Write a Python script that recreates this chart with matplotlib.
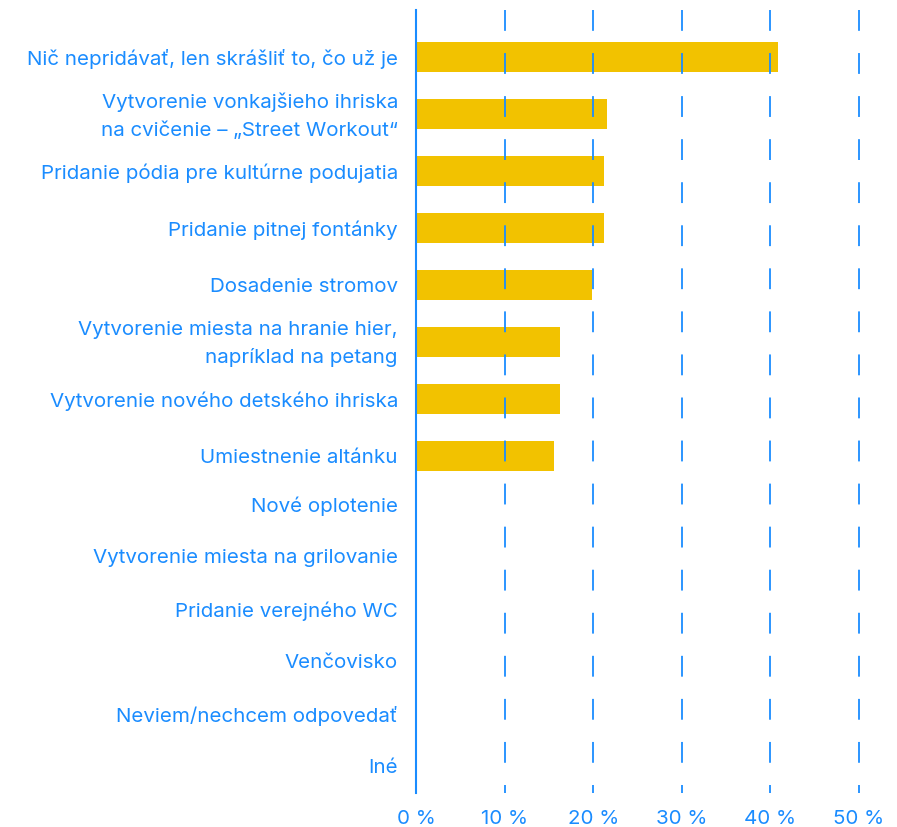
import numpy as np
import matplotlib
matplotlib.use("Agg")
import matplotlib.pyplot as plt
import matplotlib.transforms as mtransforms

plt.rcParams['font.family'] = ['Inter', 'DejaVu Sans']
plt.rcParams['lines.scale_dashes'] = False

labels = ["Nič nepridávať, len skrášliť to, čo už je",
          "Vytvorenie vonkajšieho ihriska\nna cvičenie – „Street Workout“",
          "Pridanie pódia pre kultúrne podujatia",
          "Pridanie pitnej fontánky",
          "Dosadenie stromov",
          "Vytvorenie miesta na hranie hier,\nnapríklad na petang",
          "Vytvorenie nového detského ihriska",
          "Umiestnenie altánku",
          "Nové oplotenie",
          "Vytvorenie miesta na grilovanie",
          "Pridanie verejného WC",
          "Venčovisko",
          "Neviem/nechcem odpovedať",
          "Iné"]
values = [40.9, 21.6, 21.2, 21.2, 19.9, 16.3, 16.3, 15.6, 0, 0, 0, 0, 0, 0]
xticks = [0, 10, 20, 30, 40, 50]

BLUE = '#1a8cff'
YELLOW = '#f2c200'

W, H = 897, 827
fig = plt.figure(figsize=(W / 100, H / 100), dpi=100)
ax = fig.add_axes([416 / W, 1 - 793 / H, (859 - 416) / W, (793 - 10) / H])

# row centres in pixels from the top of the axes: bar rows are taller
vals = np.array(values)
gaps = np.where(vals > 0, 57.0, 52.4)
gaps[0] = 47
gaps[np.argmax(vals == 0)] = 48
ypos = np.cumsum(gaps)

ax.barh(ypos, vals, height=30, color=YELLOW, zorder=1)
ax.set_ylim(783, 0)
ax.set_xlim(0, 50)

for x in xticks[1:]:
    ax.plot([x, x], [0, 783], color=BLUE, lw=1.3, dashes=(15, 16), zorder=3,
            clip_on=False)

for s in ['top', 'right', 'bottom']:
    ax.spines[s].set_visible(False)
ax.spines['left'].set_color(BLUE)
ax.spines['left'].set_linewidth(1.5)
ax.spines['left'].set_zorder(4)

ax.set_yticks(ypos)
ax.set_yticklabels(labels, fontsize=14.8, color=BLUE, linespacing=1.65)
ax.set_xticks(xticks)
ax.set_xticklabels([f"{x} %" for x in xticks], fontsize=14.8, color=BLUE)
ax.tick_params(axis='y', length=0, pad=13)
ax.tick_params(axis='x', length=0, pad=12)
shift = mtransforms.ScaledTranslation(0, -2 / 100, fig.dpi_scale_trans)
for t in ax.get_yticklabels():
    t.set_horizontalalignment('right')
    t.set_verticalalignment('center')
    t.set_transform(t.get_transform() + shift)

fig.savefig("out.png", dpi=100)
